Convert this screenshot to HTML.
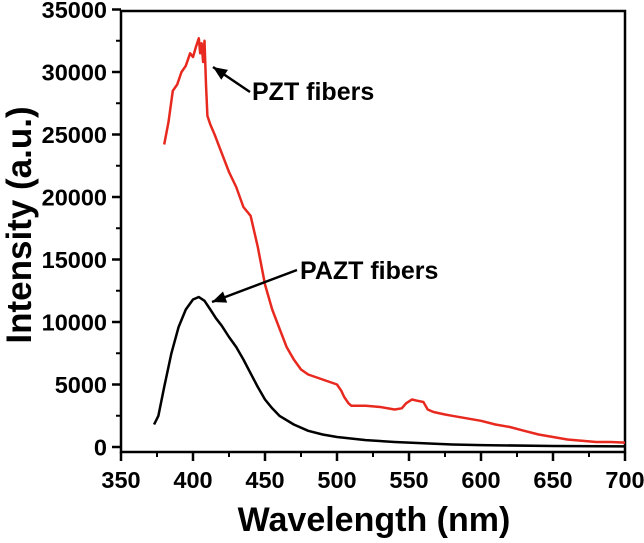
<!DOCTYPE html>
<html><head><meta charset="utf-8"><style>
body{margin:0;background:#fff}
svg text{font-family:"Liberation Sans",Arial,sans-serif;font-weight:bold}
</style></head><body>
<svg width="644" height="538" viewBox="0 0 644 538">
<g id="g"></g>
</svg>
<script>
const xTicks=[350,400,450,500,550,600,650,700];
const yTicks=[0,5000,10000,15000,20000,25000,30000,35000];
const pztX=[380,383,386,389,392,395,398,400,402,404,405,406,407,408,409,410,412,415,420,425,430,435,440,445,450,455,460,465,470,475,480,485,490,495,500,503,505,508,510,520,530,540,545,548,552,556,560,563,567,575,580,590,600,610,620,630,640,650,660,670,680,690,700];
const pztY=[24200,26000,28500,29000,30000,30500,31500,31200,32000,32700,31500,32300,30800,32500,29000,26500,25800,25000,23500,22000,20800,19200,18500,16000,13000,11000,9500,8000,7000,6200,5800,5600,5400,5200,5000,4500,4000,3500,3300,3300,3200,3000,3100,3500,3800,3700,3600,3000,2800,2600,2500,2300,2100,1800,1600,1300,1000,800,600,500,400,400,350];
const paztX=[373,376,380,385,390,395,400,404,408,412,416,420,425,430,435,440,445,450,455,460,470,480,490,500,520,540,560,580,600,650,700];
const paztY=[1800,2500,4800,7500,9600,11000,11800,12000,11700,11000,10300,9700,8800,8000,7000,5900,4800,3800,3100,2500,1800,1300,1000,800,550,400,300,200,150,80,50];
const X=v=>121+(v-350)*(625-121)/350;
const Y=v=>447-v*(447-72)/30000;
const g=document.getElementById('g');
const NS='http://www.w3.org/2000/svg';
function mk(t,a,txt){const e=document.createElementNS(NS,t);for(const k in a)e.setAttribute(k,a[k]);if(txt!==undefined)e.textContent=txt;g.appendChild(e);return e;}
const fr=mk('rect',{x:121,y:11,width:504,height:441,fill:'none',stroke:'#000','stroke-width':2.5});


xTicks.forEach((t,i)=>{
 const l=mk('line',{x1:X(t),x2:X(t),y1:452,y2:461,stroke:'#000','stroke-width':2.5});
 
 
 if(i<xTicks.length-1){const m=mk('line',{x1:X(t+25),x2:X(t+25),y1:452,y2:457,stroke:'#000','stroke-width':2});
 
 }
 const tx=mk('text',{x:X(t),y:488,'font-size':23.5,'text-anchor':'middle'},String(t));
 
 
});
yTicks.forEach((t,i)=>{
 const l=mk('line',{x1:112,x2:121,y1:Y(t),y2:Y(t),stroke:'#000','stroke-width':2.5});
 
 
 if(i<yTicks.length-1){const m=mk('line',{x1:116,x2:121,y1:Y(t+2500),y2:Y(t+2500),stroke:'#000','stroke-width':2});
 
 }
 const tx=mk('text',{x:107,y:Y(t)+8.5,'font-size':23.5,'text-anchor':'end'},String(t));
 
 
});
function line(xs,ys,c,n){const d=xs.map((x,i)=>(i?'L':'M')+X(x).toFixed(1)+','+Y(ys[i]).toFixed(1)).join('');
 const p=mk('path',{d:d,fill:'none',stroke:c,'stroke-width':2.5,'stroke-linejoin':'round'});
 
 }
line(paztX,paztY,'#000','pazt-series');
line(pztX,pztY,'#e8291f','pzt-series');
function arrow(x1,y1,x2,y2,n){const a=mk('line',{x1:x1,y1:y1,x2:x2,y2:y2,stroke:'#000','stroke-width':2.5});
 
 
 const ang=Math.atan2(y2-y1,x2-x1),L=14,W=6;
 const bx=x2-L*Math.cos(ang),by=y2-L*Math.sin(ang);
 const h=mk('polygon',{points:`${x2},${y2} ${bx+W*Math.sin(ang)},${by-W*Math.cos(ang)} ${bx-W*Math.sin(ang)},${by+W*Math.cos(ang)}`,fill:'#000'});
 
 }
arrow(250,92,213,67,'pzt-arrow');
arrow(297,270,212,302,'pazt-arrow');
const t1=mk('text',{x:252,y:100,'font-size':25},'PZT fibers');


const t2=mk('text',{x:300,y:279,'font-size':25},'PAZT fibers');


const xl=mk('text',{x:374,y:531,'font-size':34,'text-anchor':'middle'},'Wavelength (nm)');


const yl=mk('text',{x:0,y:0,'font-size':35,'text-anchor':'middle',transform:'translate(31,225) rotate(-90)'},'Intensity (a.u.)');


</script>
</body></html>
